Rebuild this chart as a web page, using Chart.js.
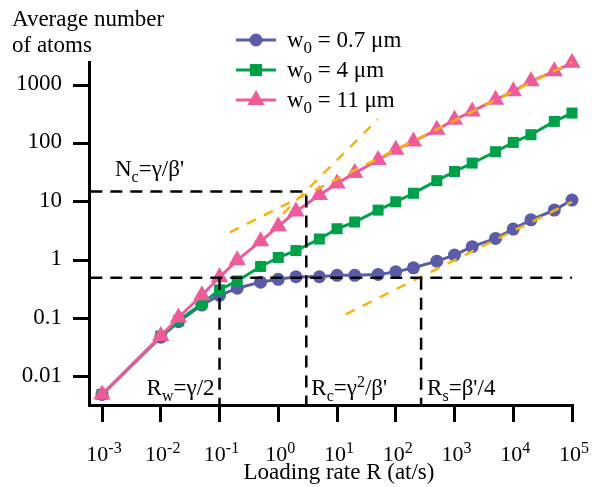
<!DOCTYPE html>
<html>
<head>
<meta charset="utf-8">
<script src="https://cdn.jsdelivr.net/npm/chart.js@4"></script>
<style>
  body { margin: 0; background: #fff; }
  canvas { display: block; }
</style>
</head>
<body>
<canvas id="atomsChart" width="592" height="487"></canvas>
<script>
// loading rates (at/s)
const rates = [0.001, 0.01, 0.02, 0.05, 0.1, 0.2, 0.5, 1, 2, 5, 10, 20, 50, 100, 200, 500, 1000, 2000, 5000, 10000, 20000, 50000, 100000];
// average number of atoms for each waist
const atomsW07 = [0.005, 0.048, 0.088, 0.17, 0.25, 0.33, 0.42, 0.47, 0.52, 0.52, 0.55, 0.55, 0.57, 0.63, 0.74, 0.96, 1.22, 1.7, 2.36, 3.4, 4.9, 7.2, 10.7];
const atomsW4 = [0.005, 0.05, 0.092, 0.18, 0.31, 0.44, 0.78, 1.11, 1.46, 2.3, 3.45, 4.5, 7.2, 10, 14, 23, 33, 46, 72, 104, 141, 238, 331];
const atomsW11 = [0.005, 0.05, 0.104, 0.25, 0.51, 1.0, 2.1, 3.8, 6.8, 13, 20.5, 31, 52, 78, 108, 171, 254, 353, 562, 780, 1160, 1720, 2400];
const waistLabels = ['0.7', '4', '11'];

// asymptotes (yellow dashed)
const fitSteepR = [1.2, 50];
const fitSteepN = [6.2, 260];
const fitLargeR = [0.15, 100000];
const fitLargeN = [3.0, 2470];
const fitSmallR = [14, 100000];
const fitSmallN = [0.118, 10];

// characteristic values (black dashed)
const nLow = 0.5;
const nC = 15;
const rW = 0.1;
const rC = 3;
const rS = 270;

// axes
const xMin = Math.pow(10, -3.2);
const xMax = 1e5;
const yMin = 0.0033;
const yMax = 2480;
const xTickExps = [-3, -2, -1, 0, 1, 2, 3, 4, 5];
const yTickValues = [0.01, 0.1, 1, 10, 100, 1000];
const yTickLabels = ['0.01', '0.1', '1', '10', '100', '1000'];
const yTitle = ['Average number', 'of atoms'];
const xTitle = 'Loading rate R (at/s)';

const BLUE = '#5a5ca8';
const GREEN = '#00a04a';
const PINK = '#ee5b9b';
const GOLD = '#f6b50e';
const SERIF = '"Liberation Serif", "Times New Roman", serif';

function pts(xs, ys) {
  return xs.map((x, i) => ({ x: x, y: ys[i] }));
}

// text with sub/superscripts: parts = [[text, 'sub'|'sup'|'']]
function drawRich(ctx, parts, x, y, align, size, small) {
  let total = 0;
  const widths = parts.map(p => {
    ctx.font = (p[1] ? small : size) + 'px ' + SERIF;
    const w = ctx.measureText(p[0]).width;
    total += w;
    return w;
  });
  let cx = x;
  if (align === 'center') cx = x - total / 2;
  if (align === 'right') cx = x - total;
  ctx.textAlign = 'left';
  parts.forEach((p, i) => {
    ctx.font = (p[1] ? small : size) + 'px ' + SERIF;
    let dy = 0;
    if (p[1] === 'sub') dy = 6;
    if (p[1] === 'sup') dy = -8;
    ctx.fillText(p[0], cx, y + dy);
    cx += widths[i];
  });
}

const textPlugin = {
  id: 'textPlugin',
  afterDraw(chart) {
    const ctx = chart.ctx;
    const xs = chart.scales.x;
    const ys = chart.scales.y;
    ctx.save();
    ctx.fillStyle = '#000';
    ctx.textBaseline = 'alphabetic';

    ctx.font = '23px ' + SERIF;
    ctx.textAlign = 'left';
    ctx.fillText(yTitle[0], 12, 26);
    ctx.fillText(yTitle[1], 12, 52);
    ctx.textAlign = 'center';
    ctx.fillText(xTitle, 339, 479);

    // y tick labels
    ctx.textAlign = 'right';
    yTickValues.forEach((v, i) => {
      ctx.fillText(yTickLabels[i], 62, ys.getPixelForValue(v) + 5);
    });

    // x tick labels
    xTickExps.forEach(e => {
      const px = xs.getPixelForValue(Math.pow(10, e));
      drawRich(ctx, [['10', ''], [String(e), 'sup']], px + 2, 461, 'center', 22, 16);
    });

    // annotations
    drawRich(ctx, [['N', ''], ['c', 'sub'], ["=γ/β'", '']], 115, ys.getPixelForValue(nC) - 15, 'left', 23, 16);
    drawRich(ctx, [['R', ''], ['w', 'sub'], ['=γ/2', '']], xs.getPixelForValue(rW) - 5, 395, 'right', 23, 16);
    drawRich(ctx, [['R', ''], ['c', 'sub'], ['=γ', ''], ['2', 'sup'], ["/β'", '']], xs.getPixelForValue(rC) + 5, 395, 'left', 23, 16);
    drawRich(ctx, [['R', ''], ['s', 'sub'], ["=β'/4", '']], xs.getPixelForValue(rS) + 6, 395, 'left', 23, 16);

    // legend
    const styles = [
      { color: BLUE, pointStyle: 'circle', radius: 6.5 },
      { color: GREEN, pointStyle: 'rect', radius: 8.5 },
      { color: PINK, pointStyle: 'triangle', radius: 10 }
    ];
    const rows = [40, 70, 100];
    styles.forEach((s, i) => {
      const y = rows[i];
      ctx.strokeStyle = s.color;
      ctx.lineWidth = 3;
      ctx.beginPath();
      ctx.moveTo(236, y);
      ctx.lineTo(276, y);
      ctx.stroke();
      ctx.fillStyle = s.color;
      Chart.helpers.drawPoint(ctx, { pointStyle: s.pointStyle, radius: s.radius, rotation: 0, borderWidth: 0 }, 256, y);
      ctx.fillStyle = '#000';
      drawRich(ctx, [['w', ''], ['0', 'sub'], [' = ' + waistLabels[i] + ' μm', '']], 287, y + 7, 'left', 23, 17);
    });
    ctx.restore();
  }
};

const ctx = document.getElementById('atomsChart').getContext('2d');
const atomsChart = new Chart(ctx, {
  type: 'line',
  data: {
    datasets: [
      {
        label: 'Nc',
        data: [{ x: xMin, y: nC }, { x: rC, y: nC }, { x: rC, y: yMin }],
        borderColor: '#000', borderWidth: 2.5, borderDash: [12, 8], pointRadius: 0, order: 0
      },
      {
        label: 'Nlow',
        data: [{ x: xMin, y: nLow }, { x: xMax, y: nLow }],
        borderColor: '#000', borderWidth: 2.5, borderDash: [12, 8], pointRadius: 0, order: 0
      },
      {
        label: 'Rw',
        data: [{ x: rW, y: nLow }, { x: rW, y: yMin }],
        borderColor: '#000', borderWidth: 2.5, borderDash: [12, 8], pointRadius: 0, order: 0
      },
      {
        label: 'Rs',
        data: [{ x: rS, y: nLow }, { x: rS, y: yMin }],
        borderColor: '#000', borderWidth: 2.5, borderDash: [12, 8], pointRadius: 0, order: 0
      },
      {
        label: 'fit steep',
        data: pts(fitSteepR, fitSteepN),
        borderColor: GOLD, borderWidth: 2.5, borderDash: [10, 9], pointRadius: 0, order: 1
      },
      {
        label: 'fit large',
        data: pts(fitLargeR, fitLargeN),
        borderColor: GOLD, borderWidth: 2.5, borderDash: [10, 9], pointRadius: 0, order: 1
      },
      {
        label: 'fit small',
        data: pts(fitSmallR, fitSmallN),
        borderColor: GOLD, borderWidth: 2.5, borderDash: [10, 9], pointRadius: 0, order: 1
      },
      {
        label: 'w0 = 11 µm',
        data: pts(rates, atomsW11),
        borderColor: PINK, backgroundColor: PINK, borderWidth: 3,
        pointStyle: 'triangle', pointRadius: 10, pointBorderWidth: 0, pointBackgroundColor: PINK,
        clip: false, order: 2
      },
      {
        label: 'w0 = 4 µm',
        data: pts(rates, atomsW4),
        borderColor: GREEN, backgroundColor: GREEN, borderWidth: 3,
        pointStyle: 'rect', pointRadius: 7.8, pointBorderWidth: 0, pointBackgroundColor: GREEN,
        clip: false, order: 3
      },
      {
        label: 'w0 = 0.7 µm',
        data: pts(rates, atomsW07),
        borderColor: BLUE, backgroundColor: BLUE, borderWidth: 3,
        pointStyle: 'circle', pointRadius: 6.5, pointBorderWidth: 0, pointBackgroundColor: BLUE,
        clip: false, order: 4
      }
    ]
  },
  options: {
    responsive: false,
    animation: false,
    devicePixelRatio: 1,
    layout: { padding: { left: 0, right: 20, top: 62, bottom: 0 } },
    elements: { line: { tension: 0 } },
    plugins: {
      legend: { display: false },
      tooltip: { enabled: false }
    },
    scales: {
      x: {
        type: 'logarithmic',
        min: xMin,
        max: xMax,
        afterBuildTicks: scale => {
          scale.ticks = xTickExps.map(e => ({ value: Math.pow(10, e) }));
        },
        afterFit: scale => {
          scale.height = 82;
          scale.paddingLeft = 0;
          scale.paddingRight = 0;
        },
        ticks: { display: false, autoSkip: false },
        grid: { drawOnChartArea: false, color: '#000', lineWidth: 3, tickLength: 17 },
        border: { display: true, color: '#000', width: 3 }
      },
      y: {
        type: 'logarithmic',
        min: yMin,
        max: yMax,
        afterBuildTicks: scale => {
          scale.ticks = yTickValues.map(v => ({ value: v }));
        },
        afterFit: scale => {
          scale.width = 89;
          scale.paddingTop = 0;
          scale.paddingBottom = 0;
        },
        ticks: { display: false, autoSkip: false },
        grid: { drawOnChartArea: false, color: '#000', lineWidth: 3, tickLength: 16 },
        border: { display: true, color: '#000', width: 3 }
      }
    }
  },
  plugins: [textPlugin]
});
</script>
</body>
</html>
